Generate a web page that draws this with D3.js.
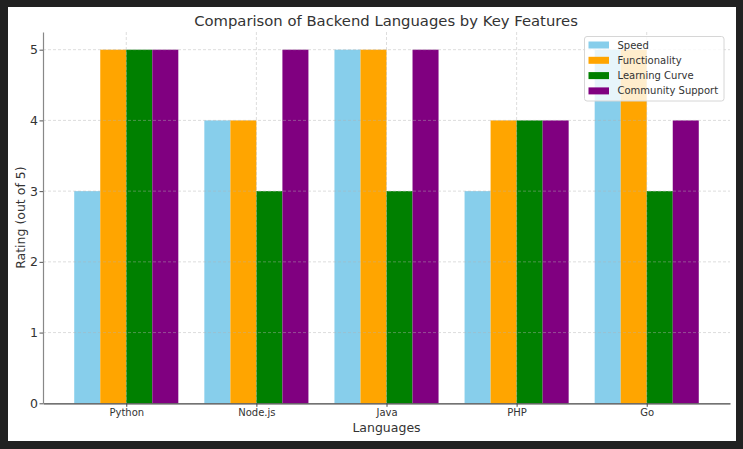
<!DOCTYPE html>
<html><head><meta charset="utf-8">
<script src="https://cdn.jsdelivr.net/npm/d3@7"></script>
<style>
html,body{margin:0;padding:0;background:#212121;}
svg{display:block;font-family:"DejaVu Sans",sans-serif;}
</style></head>
<body>
<svg id="chart" width="743" height="449"></svg>
<script>
const languages = ["Python", "Node.js", "Java", "PHP", "Go"];
const features = ["Speed", "Functionality", "Learning Curve", "Community Support"];
const speed = [3, 4, 5, 3, 5];
const functionality = [5, 4, 5, 4, 5];
const learningCurve = [5, 3, 3, 4, 3];
const communitySupport = [5, 5, 5, 4, 4];
const colors = ["#87CEEB", "#FFA500", "#008000", "#800080"];
const yTicks = [0, 1, 2, 3, 4, 5];

const seriesValues = [speed, functionality, learningCurve, communitySupport];

const svg = d3.select("#chart");
svg.append("rect").attr("x", 8).attr("y", 7).attr("width", 728).attr("height", 434).attr("fill", "#fff");

const L = 43, R = 730, T = 32, B = 403.3;
const barW = 0.2;
const x = d3.scaleLinear().domain([-0.64, languages.length - 1 + 0.64]).range([L, R]);
const y = d3.scaleLinear().domain([0, 5.25]).range([B, T]);

// bars
const g = svg.append("g");
features.forEach((f, si) => {
  g.selectAll(null).data(seriesValues[si]).enter().append("rect")
    .attr("x", (d, i) => x(i + (si - 1.5) * barW - barW / 2))
    .attr("width", x(barW) - x(0))
    .attr("y", d => y(d))
    .attr("height", d => y(0) - y(d))
    .attr("fill", colors[si]);
});

// grid
const grid = svg.append("g").attr("stroke", "#b0b0b0").attr("stroke-opacity", 0.55)
  .attr("stroke-dasharray", "3,2").attr("stroke-width", 0.8);
grid.selectAll(null).data(yTicks.filter(d => d > 0)).enter().append("line")
  .attr("x1", L).attr("x2", R).attr("y1", d => y(d)).attr("y2", d => y(d));
grid.selectAll(null).data(languages).enter().append("line")
  .attr("x1", (d, i) => x(i)).attr("x2", (d, i) => x(i)).attr("y1", T).attr("y2", B);

// axes
const xAxis = d3.axisBottom(x).tickValues(languages.map((d, i) => i))
  .tickFormat(i => languages[i]).tickSize(3.5).tickSizeOuter(0);
const xg = svg.append("g").attr("transform", `translate(0,${B})`).call(xAxis);
xg.select(".domain").attr("stroke", "#444").attr("stroke-width", 1.2);
xg.selectAll(".tick line").attr("stroke", "#444");
xg.selectAll(".tick text").attr("font-size", 10).attr("fill", "#333").attr("font-family", "DejaVu Sans").attr("dy", "0.6em");

const yAxis = d3.axisLeft(y).tickValues(yTicks).tickFormat(d3.format("d")).tickSize(3.5).tickSizeOuter(0);
const yg = svg.append("g").attr("transform", `translate(${L},0)`).call(yAxis);
yg.select(".domain").attr("stroke", "#888").attr("stroke-width", 1.2);
yg.selectAll(".tick line").attr("stroke", "#555");
yg.selectAll(".tick text").attr("font-size", 12.5).attr("fill", "#333").attr("font-family", "DejaVu Sans").attr("x", -5);

// labels
svg.append("text").attr("x", 386).attr("y", 25.5).attr("text-anchor", "middle")
  .attr("font-size", 14.8).attr("fill", "#333").text("Comparison of Backend Languages by Key Features");
svg.append("text").attr("x", (L + R) / 2).attr("y", 431.5).attr("text-anchor", "middle")
  .attr("font-size", 12.5).attr("fill", "#333").text("Languages");
svg.append("text").attr("transform", `translate(24.5,${(T + B) / 2}) rotate(-90)`).attr("text-anchor", "middle")
  .attr("font-size", 12.5).attr("fill", "#333").text("Rating (out of 5)");

// legend
const lg = svg.append("g");
lg.append("rect").attr("x", 584.5).attr("y", 36.5).attr("width", 139.5).attr("height", 64.5).attr("rx", 2.5)
  .attr("fill", "#fff").attr("fill-opacity", 0.8).attr("stroke", "#d6d6d6");
features.forEach((f, i) => {
  const cy = 45 + i * 15.3;
  lg.append("rect").attr("x", 588.5).attr("y", cy - 3.5).attr("width", 20.5).attr("height", 7).attr("fill", colors[i]);
  lg.append("text").attr("x", 617.5).attr("y", cy).attr("dy", "0.35em").attr("font-size", 10)
    .attr("fill", "#333").text(f);
});
</script>
</body></html>
